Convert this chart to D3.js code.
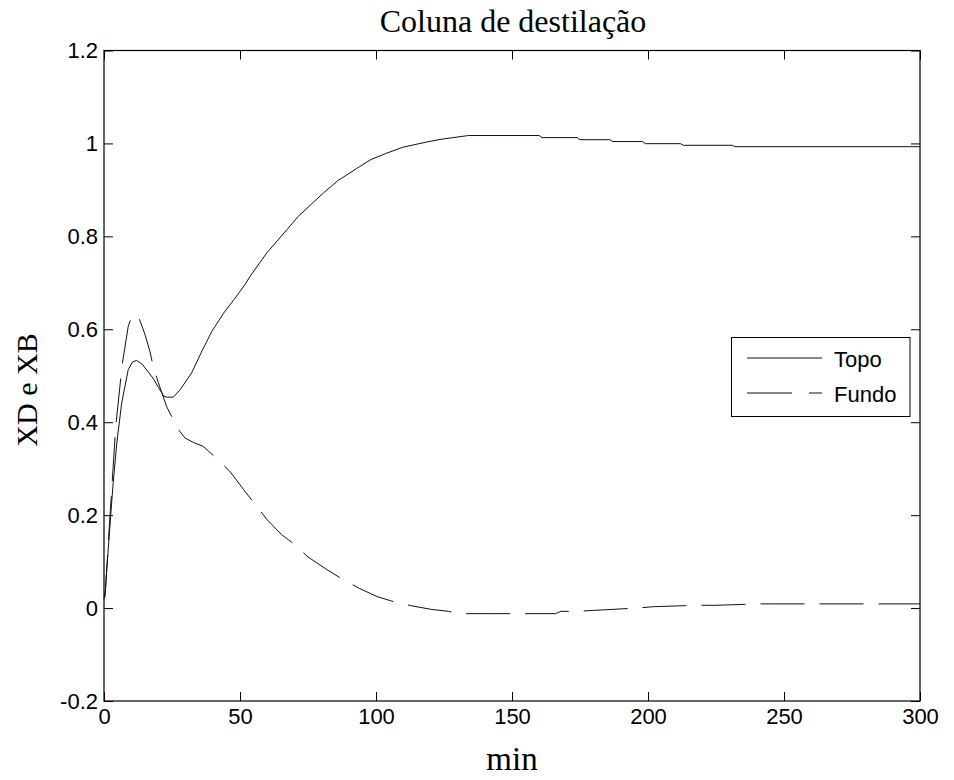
<!DOCTYPE html>
<html>
<head>
<meta charset="utf-8">
<script src="https://cdn.jsdelivr.net/npm/d3@7"></script>
<style>
  html, body { margin: 0; padding: 0; background: #fff; }
  svg { display: block; }
  .tick text { font-family: "Liberation Sans", Arial, sans-serif; font-size: 22px; fill: #000; }
  .domain { display: none; }
  .tick line { stroke: #000; stroke-width: 1; }
</style>
</head>
<body>
<svg id="chart" width="954" height="780"></svg>
<script>
// ---- data ----
const titleText = "Coluna de destilação";
const xLabelText = "min";
const yLabelText = "XD e XB";
const seriesNames = ["Topo", "Fundo"];

const xTicks = [0, 50, 100, 150, 200, 250, 300];
const xTickLabels = ["0", "50", "100", "150", "200", "250", "300"];
const yTicks = [-0.2, 0, 0.2, 0.4, 0.6, 0.8, 1, 1.2];
const yTickLabels = ["-0.2", "0", "0.2", "0.4", "0.6", "0.8", "1", "1.2"];

const topoT = [0, 0.4, 1.0, 1.6, 2.8, 3.4, 4.7, 6.5, 8.9, 10.5, 12.0, 14, 16, 18, 20, 22, 23, 25.5, 28, 32.2, 36, 39.6, 44, 48.2, 51.8, 53.7, 59.8, 67.2, 71.4, 80.6, 86, 92.9, 98, 103.9, 110, 118.6, 124, 134, 160, 161, 174, 175, 186, 187, 198, 199, 212, 213, 231, 232, 300];
const topoV = [0.02, 0.025, 0.083, 0.13, 0.226, 0.27, 0.355, 0.441, 0.513, 0.53, 0.533, 0.525, 0.51, 0.495, 0.475, 0.456, 0.454, 0.454, 0.47, 0.506, 0.553, 0.595, 0.635, 0.667, 0.696, 0.714, 0.764, 0.814, 0.843, 0.893, 0.92, 0.946, 0.965, 0.979, 0.992, 1.003, 1.009, 1.017, 1.017, 1.0125, 1.0125, 1.008, 1.008, 1.004, 1.004, 0.9995, 0.9995, 0.996, 0.996, 0.993, 0.993];

const fundoT = [0, 0.5, 1.2, 2, 3, 4.3, 5.9, 6.5, 8.9, 10, 11.4, 13, 15, 16.9, 18.1, 20, 23, 25.5, 27.5, 29.8, 33, 36.5, 40.8, 46.3, 51.2, 54.9, 60, 65.3, 69.6, 75, 81.9, 87.4, 94, 100.3, 105.8, 113, 120.5, 126.6, 130.9, 143, 166, 168, 174, 180, 196, 202, 218, 225, 241, 245, 300];
const fundoV = [0.02, 0.04, 0.1, 0.18, 0.27, 0.39, 0.48, 0.517, 0.606, 0.625, 0.633, 0.622, 0.59, 0.552, 0.52, 0.485, 0.434, 0.405, 0.383, 0.366, 0.356, 0.348, 0.325, 0.294, 0.256, 0.228, 0.19, 0.158, 0.139, 0.11, 0.083, 0.063, 0.042, 0.025, 0.015, 0.005, -0.003, -0.007, -0.012, -0.012, -0.012, -0.007, -0.007, -0.005, 0.0, 0.003, 0.006, 0.006, 0.009, 0.009, 0.009];

// ---- layout ----
const svg = d3.select("#chart");
const L = 104, R = 920, T = 50.5, B = 701;
const x = d3.scaleLinear().domain([0, 300]).range([L, R]);
const y = d3.scaleLinear().domain([-0.2, 1.2]).range([B, T]);

const fx = d => xTickLabels[xTicks.indexOf(d)];
const fy = d => yTickLabels[yTicks.findIndex(v => Math.abs(v - d) < 1e-9)];

svg.append("g").attr("transform", `translate(0,${B})`)
  .call(d3.axisBottom(x).tickValues(xTicks).tickFormat(fx).tickSize(-9).tickPadding(7));
svg.append("g").attr("transform", `translate(0,${T})`)
  .call(d3.axisTop(x).tickValues(xTicks).tickFormat("").tickSize(-9));
svg.append("g").attr("transform", `translate(${L},0)`)
  .call(d3.axisLeft(y).tickValues(yTicks).tickFormat(fy).tickSize(-9).tickPadding(6));
svg.append("g").attr("transform", `translate(${R},0)`)
  .call(d3.axisRight(y).tickValues(yTicks).tickFormat("").tickSize(-9));

svg.append("rect").attr("x", L).attr("y", T).attr("width", R - L).attr("height", B - T)
  .attr("fill", "none").attr("stroke", "#000").attr("stroke-width", 1.2);

const line = d3.line().x(d => x(d[0])).y(d => y(d[1]));
const topo = topoT.map((t, i) => [t, topoV[i]]);
const fundo = fundoT.map((t, i) => [t, fundoV[i]]);

svg.append("path").datum(topo).attr("d", line)
  .attr("fill", "none").attr("stroke", "#111").attr("stroke-width", 1);
svg.append("path").datum(fundo).attr("d", line)
  .attr("fill", "none").attr("stroke", "#111").attr("stroke-width", 1)
  .attr("stroke-dasharray", "44,15");

const serif = "'Liberation Serif', 'Times New Roman', serif";
svg.append("text").attr("x", 513).attr("y", 32).attr("text-anchor", "middle")
  .attr("font-family", serif).attr("font-size", 32).text(titleText);
svg.append("text").attr("x", 512).attr("y", 770).attr("text-anchor", "middle")
  .attr("font-family", serif).attr("font-size", 33).text(xLabelText);
svg.append("text").attr("transform", `translate(37,390) rotate(-90)`).attr("text-anchor", "middle")
  .attr("font-family", serif).attr("font-size", 30).text(yLabelText);

const lg = svg.append("g");
lg.append("rect").attr("x", 731.5).attr("y", 337.5).attr("width", 178.5).attr("height", 79)
  .attr("fill", "#fff").attr("stroke", "#000").attr("stroke-width", 1);
const legendY = [358, 393];
seriesNames.forEach((name, i) => {
  lg.append("line").attr("x1", 747).attr("x2", 822).attr("y1", legendY[i]).attr("y2", legendY[i])
    .attr("stroke", "#111").attr("stroke-width", 1)
    .attr("stroke-dasharray", i === 1 ? "45,17" : null);
  lg.append("text").attr("x", 834).attr("y", legendY[i] + 8.5)
    .attr("font-family", "'Liberation Sans', Arial, sans-serif").attr("font-size", 22)
    .text(name);
});
</script>
</body>
</html>
